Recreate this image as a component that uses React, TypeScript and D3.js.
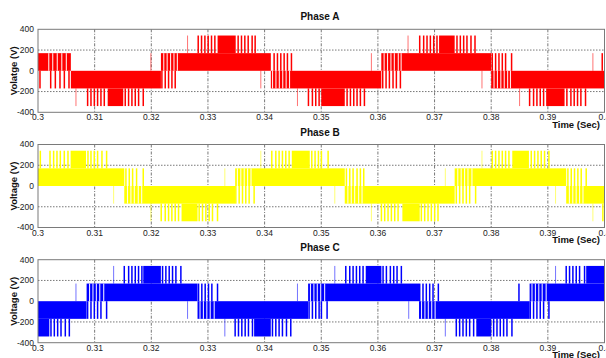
import React from "react";
import * as d3 from "d3";

// time values are milliseconds after t = 0.3 s
const xTicks = [0, 10, 20, 30, 40, 50, 60, 70, 80, 90, 100];
const xTickLabels = ["0.3", "0.31", "0.32", "0.33", "0.34", "0.35", "0.36", "0.37", "0.38", "0.39", "0.4"];
const yTicks = [400, 200, 0, -200, -400];
const gridY = [200, -200];

type Band = [number, number, number, number]; // t0, t1, lo, hi
type Lines = [number, number, number[]]; // lo, hi, times

// Phase A
const phaseABands: Band[] = [
  [0, 5.8, 0, 170],
  [5.8, 21.7, -170, 0],
  [12.3, 15.05, -340, -170],
  [21.7, 41.1, 0, 170],
  [31.7, 34.9, 170, 340],
  [41.1, 60.6, -170, 0],
  [50.0, 54.15, -340, -170],
  [60.6, 80.0, 0, 170],
  [70.8, 73.55, 170, 340],
  [80.0, 100, -170, 0],
  [89.7, 92.95, -340, -170],
];
const phaseAPulses: Lines[] = [
  [-170, 0, [0.35, 2.24, 3.06, 3.88, 4.65, 5.47, 21.87, 22.46, 23.05, 23.64, 24.22, 60.85, 61.44, 62.03, 62.67, 63.26, 63.97]],
  [-340, -170, [8.76, 9.35, 9.94, 10.52, 11.11, 11.7, 15.4, 15.99, 16.58, 17.17, 17.76, 18.58, 47.74, 48.44, 49.03, 49.62, 54.56, 55.15, 55.74, 56.32, 56.91, 57.62, 86.78, 87.48, 88.07, 88.66, 89.25, 93.36, 94.07, 94.65, 95.24, 95.83, 96.65]],
  [170, 340, [28.28, 28.87, 29.46, 30.04, 30.63, 31.22, 35.33, 35.92, 36.51, 37.1, 37.8, 38.33, 67.38, 68.08, 68.67, 69.26, 69.85, 70.43, 73.96, 74.55, 75.14, 75.72, 76.43, 77.14]],
  [0, 170, [41.68, 42.27, 42.86, 43.45, 44.03, 44.74, 80.19, 80.78, 81.37, 81.96, 82.54, 83.6, 99.6]],
];
const phaseAFaint: Lines[] = [
  [-340, -170, [6.7, 45.8, 85.01]],
  [0, 170, [19.93, 58.85, 97.95]],
  [170, 340, [26.4, 65.32]],
  [-170, 0, [39.33, 78.37]],
];
const phaseAGaps: Lines[] = [
  [0, 170, [1.9, 2.6, 3.4, 4.2, 5.0, 22.2, 22.8, 23.4, 24.0, 24.6, 61.1, 61.7, 62.3, 62.9, 63.6, 64.1]],
  [-170, 0, [41.4, 42.0, 42.6, 43.2, 43.8, 44.4, 80.5, 81.1, 81.7, 82.3, 82.9, 83.4]],
];

// Phase B
const phaseBBands: Band[] = [
  [0, 15.23, 0, 170],
  [5.76, 8.47, 170, 340],
  [15.23, 34.8, -170, 0],
  [25.34, 28.16, -340, -170],
  [34.8, 54.15, 0, 170],
  [44.8, 47.97, 170, 340],
  [54.15, 73.55, -170, 0],
  [64.32, 67.38, -340, -170],
  [73.55, 93.24, 0, 170],
  [83.72, 86.66, 170, 340],
  [93.24, 100, -170, 0],
];
const phaseBPulses: Lines[] = [
  [170, 340, [0.41, 2.12, 2.76, 3.35, 3.94, 4.64, 5.29, 8.82, 9.35, 9.93, 10.52, 11.29, 12.11, 41.27, 41.98, 42.56, 43.15, 43.74, 44.33, 48.33, 48.91, 49.5, 50.03, 51.21, 80.19, 80.78, 81.37, 81.96, 82.54, 83.13, 87.07, 87.66, 88.25, 88.83, 89.42, 90.19]],
  [0, 170, [15.52, 16.11, 16.7, 17.4, 18.58, 54.44, 55.03, 55.62, 56.32, 56.91, 57.5, 93.54, 94.13, 94.71, 95.3, 95.89, 96.77]],
  [-340, -170, [21.75, 22.46, 23.05, 23.63, 24.22, 24.81, 28.45, 29.04, 29.63, 30.22, 30.8, 31.69, 60.62, 61.2, 61.79, 62.38, 62.97, 63.56, 67.67, 68.26, 68.85, 69.43, 70.02, 70.61, 99.71]],
  [-170, 0, [34.92, 35.51, 36.1, 36.68, 37.27, 38.15, 73.84, 74.43, 75.02, 75.61, 76.2, 77.25]],
];
const phaseBFaint: Lines[] = [
  [-170, 0, [13.35, 52.39, 91.36]],
  [-340, -170, [19.93, 58.85, 97.95]],
  [0, 170, [32.98, 71.9]],
  [170, 340, [39.33, 78.37]],
];
const phaseBGaps: Lines[] = [
  [-170, 0, [15.8, 16.4, 17.0, 17.7, 18.3, 54.7, 55.3, 55.9, 56.6, 57.2, 93.8, 94.4, 95.0, 95.6, 96.2]],
  [0, 170, [35.2, 35.8, 36.4, 37.0, 37.6, 74.1, 74.7, 75.3, 75.9, 76.6]],
];

// Phase C
const phaseCBands: Band[] = [
  [0, 8.58, -170, 0],
  [0, 2.0, -340, -170],
  [8.58, 28.16, 0, 170],
  [18.58, 21.69, 170, 340],
  [28.16, 47.68, -170, 0],
  [38.15, 41.09, -340, -170],
  [47.68, 67.26, 0, 170],
  [57.85, 60.62, 170, 340],
  [67.26, 86.78, -170, 0],
  [77.37, 80.02, -340, -170],
  [86.78, 100, 0, 170],
  [96.77, 100, 170, 340],
];
const phaseCPulses: Lines[] = [
  [-340, -170, [2.29, 2.88, 3.47, 4.06, 4.82, 5.53, 34.8, 35.39, 35.98, 36.57, 37.15, 37.86, 41.39, 41.98, 42.56, 43.15, 43.86, 44.62, 73.84, 74.43, 75.02, 75.61, 76.2, 76.9, 80.43, 81.02, 81.6, 82.19, 82.78, 83.66]],
  [-170, 0, [8.76, 9.35, 9.94, 10.52, 11.11, 12.11, 47.85, 48.44, 49.03, 49.62, 50.03, 51.03, 86.9, 87.48, 88.07, 88.66, 89.25, 90.19]],
  [170, 340, [15.23, 16.0, 16.58, 17.17, 17.75, 18.34, 21.99, 22.57, 23.16, 23.75, 24.34, 25.22, 54.33, 55.03, 55.62, 56.21, 56.79, 57.38, 60.91, 61.5, 62.2, 62.79, 63.38, 64.14, 93.24, 93.83, 94.42, 95.01, 95.6, 96.48]],
  [0, 170, [28.34, 28.92, 29.51, 30.1, 30.69, 31.69, 67.38, 67.96, 68.55, 69.14, 69.73, 70.67, 84.9]],
];
const phaseCFaint: Lines[] = [
  [0, 170, [6.7, 45.8]],
  [170, 340, [13.35, 52.39, 91.36]],
  [-170, 0, [26.4, 65.44]],
  [-340, -170, [32.98, 71.9]],
];
const phaseCGaps: Lines[] = [
  [0, 170, [9.1, 9.7, 10.3, 10.9, 11.6, 48.1, 48.7, 49.3, 49.9, 50.6, 87.2, 87.8, 88.4, 89.0, 89.7]],
  [-170, 0, [28.6, 29.2, 29.8, 30.4, 31.1, 67.7, 68.3, 68.9, 69.5, 70.1]],
];

const W = 606;
const H = 358;
const left = 38;
const right = 604.5;
const plotH = 83;
const font = "'Liberation Sans', Arial, sans-serif";

const panels = [
  { title: "Phase A", yLabel: "Volatge (V)", color: "#ff0000", top: 29.3, bands: phaseABands, pulses: phaseAPulses, faint: phaseAFaint, gaps: phaseAGaps },
  { title: "Phase B", yLabel: "Voltage (V)", color: "#ffff00", top: 144.5, bands: phaseBBands, pulses: phaseBPulses, faint: phaseBFaint, gaps: phaseBGaps },
  { title: "Phase C", yLabel: "Voltage (V)", color: "#0000ff", top: 259.7, bands: phaseCBands, pulses: phaseCPulses, faint: phaseCFaint, gaps: phaseCGaps },
];

const Panel = ({ p, idx }) => {
  const x = d3.scaleLinear().domain([0, 100]).range([left, right]);
  const y = d3.scaleLinear().domain([-400, 400]).range([p.top + plotH, p.top]);
  const bottom = p.top + plotH;
  const clipId = `clip${idx}`;

  const lineRects = (groups: Lines[], w: number, fill: string, opacity = 1) =>
    groups.flatMap(([lo, hi, ts], gi) =>
      ts.map((t, i) => (
        <rect
          key={`${gi}-${i}`}
          x={x(t) - w / 2}
          y={y(hi)}
          width={w}
          height={y(lo) - y(hi)}
          fill={fill}
          opacity={opacity}
        />
      ))
    );

  return (
    <g>
      <defs>
        <clipPath id={clipId}>
          <rect x={left} y={p.top} width={right - left} height={plotH} />
        </clipPath>
      </defs>
      <rect x={left} y={p.top} width={right - left} height={plotH} fill="#fff" />
      {/* grid */}
      {xTicks.slice(1, -1).map(t => (
        <line key={t} x1={x(t)} x2={x(t)} y1={p.top} y2={bottom} stroke="#555" strokeWidth={0.8} strokeDasharray="3,1.5,1,1.5" />
      ))}
      {gridY.map(v => (
        <line key={v} x1={left} x2={right} y1={y(v)} y2={y(v)} stroke="#555" strokeWidth={0.8} strokeDasharray="1.5,1.5" />
      ))}
      <g clipPath={`url(#${clipId})`}>
        {p.bands.map(([t0, t1, lo, hi], i) => (
          <rect key={i} x={x(t0)} y={y(hi)} width={x(t1) - x(t0)} height={y(lo) - y(hi)} fill={p.color} />
        ))}
        {lineRects(p.pulses, 1.5, p.color)}
        {lineRects(p.gaps, 1.1, "#fff", 0.9)}
        {lineRects(p.faint, 1, p.color, 0.55)}
      </g>
      <rect x={left} y={p.top} width={right - left} height={plotH} fill="none" stroke="#7a7a7a" strokeWidth={1} />
      {/* ticks */}
      {yTicks.map(v => (
        <text key={v} x={34} y={y(v)} dy="0.33em" textAnchor="end" fontSize={8.5} fill="#222" fontFamily={font}>
          {v}
        </text>
      ))}
      {xTicks.map((t, i) => (
        <text key={t} x={x(t)} y={bottom + 8} textAnchor="middle" fontSize={8.5} fill="#222" fontFamily={font}>
          {xTickLabels[i]}
        </text>
      ))}
      <text x={600} y={bottom + 15.5} textAnchor="end" fontSize={9.5} fontWeight="bold" fill="#111" fontFamily={font}>
        Time (Sec)
      </text>
      <text x={320} y={p.top - 9} textAnchor="middle" fontSize={10} fontWeight="bold" fill="#111" fontFamily={font}>
        {p.title}
      </text>
      <text
        transform={`translate(13.5, ${p.top + plotH / 2}) rotate(-90)`}
        textAnchor="middle"
        dy="0.35em"
        fontSize={9.5}
        fontWeight="bold"
        fill="#111"
        fontFamily={font}
      >
        {p.yLabel}
      </text>
    </g>
  );
};

const App = () => (
  <svg width={W} height={H} style={{ position: "absolute", left: 0, top: 0, background: "#fff" }}>
    <rect width={W} height={H} fill="#fff" />
    {panels.map((p, i) => (
      <Panel key={p.title} p={p} idx={i} />
    ))}
  </svg>
);

export default App;
